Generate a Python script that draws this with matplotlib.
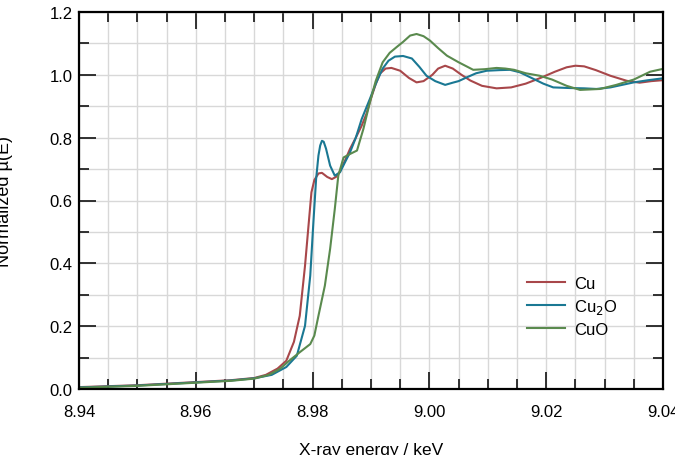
import matplotlib.pyplot as plt
from matplotlib.ticker import MultipleLocator

plt.rcParams['font.family'] = ['Liberation Sans', 'DejaVu Sans']

# energies (keV) and normalized absorption
cu_x = [8.940, 8.950, 8.960, 8.966, 8.970, 8.972, 8.974, 8.9755, 8.9768, 8.9778,
        8.9787, 8.9793, 8.9798, 8.9803, 8.9810, 8.9816, 8.9825, 8.9833, 8.9840, 8.9846,
        8.9855, 8.9864, 8.9874, 8.9884, 8.9892, 8.9900, 8.9908, 8.9916, 8.9925, 8.9935,
        8.9950, 8.9965, 8.9978, 8.9990, 9.0005, 9.0015, 9.0027, 9.0040, 9.0055, 9.0070,
        9.0090, 9.0115, 9.0140, 9.0165, 9.0190, 9.0215, 9.0235, 9.0250, 9.0265, 9.0285,
        9.0310, 9.0338, 9.0360, 9.0380, 9.0400]
cu_y = [0.006, 0.012, 0.022, 0.028, 0.035, 0.045, 0.065, 0.090, 0.150, 0.233,
        0.392, 0.520, 0.626, 0.665, 0.686, 0.688, 0.675, 0.668, 0.675, 0.690,
        0.725, 0.764, 0.800, 0.838, 0.875, 0.925, 0.970, 1.005, 1.020, 1.022,
        1.013, 0.990, 0.976, 0.980, 1.000, 1.020, 1.029, 1.020, 1.000, 0.982,
        0.965, 0.957, 0.960, 0.972, 0.990, 1.010, 1.024, 1.029, 1.027, 1.015,
        0.997, 0.981, 0.975, 0.980, 0.983]

cu2o_x = [8.940, 8.950, 8.960, 8.966, 8.970, 8.973, 8.9755, 8.9773, 8.9787, 8.9796,
          8.9801, 8.9806, 8.9810, 8.9813, 8.9816, 8.9819, 8.9823, 8.9830, 8.9838, 8.9847,
          8.9855, 8.9864, 8.9874, 8.9884, 8.9898, 8.9910, 8.9920, 8.9930, 8.9941, 8.9955,
          8.9970, 8.9983, 8.9995, 9.0010, 9.0027, 9.0040, 9.0050, 9.0064, 9.0080, 9.0098,
          9.0120, 9.0138, 9.0155, 9.0175, 9.0195, 9.0212, 9.0240, 9.0265, 9.0286, 9.0310,
          9.0335, 9.0350, 9.0375, 9.0400]
cu2o_y = [0.005, 0.011, 0.021, 0.027, 0.034, 0.045, 0.070, 0.106, 0.201, 0.361,
          0.520, 0.668, 0.743, 0.775, 0.790, 0.787, 0.765, 0.711, 0.679, 0.690,
          0.720, 0.753, 0.800, 0.859, 0.923, 0.980, 1.020, 1.045, 1.058, 1.060,
          1.052, 1.025, 0.997, 0.980, 0.968, 0.975, 0.980, 0.992, 1.005, 1.013,
          1.015, 1.016, 1.008, 0.990, 0.972, 0.960, 0.958, 0.957, 0.955, 0.960,
          0.970, 0.976, 0.983, 0.989]

cuo_x = [8.940, 8.950, 8.960, 8.966, 8.970, 8.9725, 8.9744, 8.9760, 8.9778, 8.9796,
         8.9803, 8.9810, 8.9821, 8.9830, 8.9838, 8.9844, 8.9853, 8.9864, 8.9876, 8.9887,
         8.9898, 8.9908, 8.9920, 8.9932, 8.9945, 8.9955, 8.9967, 8.9978, 8.9990, 9.0001,
         9.0015, 9.0030, 9.0050, 9.0075, 9.0095, 9.0115, 9.0130, 9.0145, 9.0165, 9.0189,
         9.0210, 9.0235, 9.0258, 9.0292, 9.0320, 9.0350, 9.0378, 9.0400]
cuo_y = [0.004, 0.010, 0.020, 0.026, 0.033, 0.045, 0.064, 0.090, 0.117, 0.143,
         0.170, 0.233, 0.329, 0.446, 0.573, 0.679, 0.737, 0.748, 0.759, 0.828,
         0.912, 0.980, 1.040, 1.070, 1.090, 1.105, 1.125, 1.130, 1.123, 1.109,
         1.085, 1.061, 1.040, 1.016, 1.018, 1.022, 1.020, 1.016, 1.005, 0.997,
         0.985, 0.965, 0.952, 0.955, 0.968, 0.985, 1.010, 1.019]

labels = ['Cu', 'Cu$_2$O', 'CuO']
colors = ['#a8474a', '#1a7893', '#5a8a4e']

fig = plt.figure(figsize=(6.75, 4.56), dpi=100)
ax = fig.add_axes([79/675, 1-390/456, 584/675, 377/456])

for xs, ys, lab, c in zip([cu_x, cu2o_x, cuo_x], [cu_y, cu2o_y, cuo_y], labels, colors):
    ax.plot(xs, ys, color=c, lw=1.5, label=lab)

ax.set_xlim(8.94, 9.04)
ax.set_ylim(0, 1.2)
ax.xaxis.set_major_locator(MultipleLocator(0.02))
ax.xaxis.set_minor_locator(MultipleLocator(0.005))
ax.yaxis.set_major_locator(MultipleLocator(0.2))
ax.yaxis.set_minor_locator(MultipleLocator(0.1))
ax.xaxis.set_major_formatter(lambda v, p: f'{v:.2f}')
ax.yaxis.set_major_formatter(lambda v, p: f'{v:.1f}')
ax.grid(True, which='both', color='#d8d8d8', lw=1)
ax.set_axisbelow(True)
ax.tick_params(which='both', direction='in', top=True, right=True, labelsize=12, width=1.3, color='#222222')
ax.tick_params(which='major', length=12)
ax.tick_params(which='minor', length=7)
ax.tick_params(axis='x', which='major', pad=10.5)
ax.tick_params(axis='y', which='major', pad=4.5)
for s in ax.spines.values():
    s.set_linewidth(1.6)

ax.set_xlabel('X-ray energy / keV', fontsize=12.5)
ax.xaxis.set_label_coords(0.5, -53/377)
ax.set_ylabel('Normalized µ(E)', fontsize=13)
ax.yaxis.set_label_coords(-66/584, 0.5)

ax.legend(loc='upper left', bbox_to_anchor=(448/584, 113/377), frameon=False, fontsize=12,
          handlelength=2.3, labelspacing=0.35, handletextpad=0.5, borderpad=0, borderaxespad=0)

fig.savefig('out.png', dpi=100)
